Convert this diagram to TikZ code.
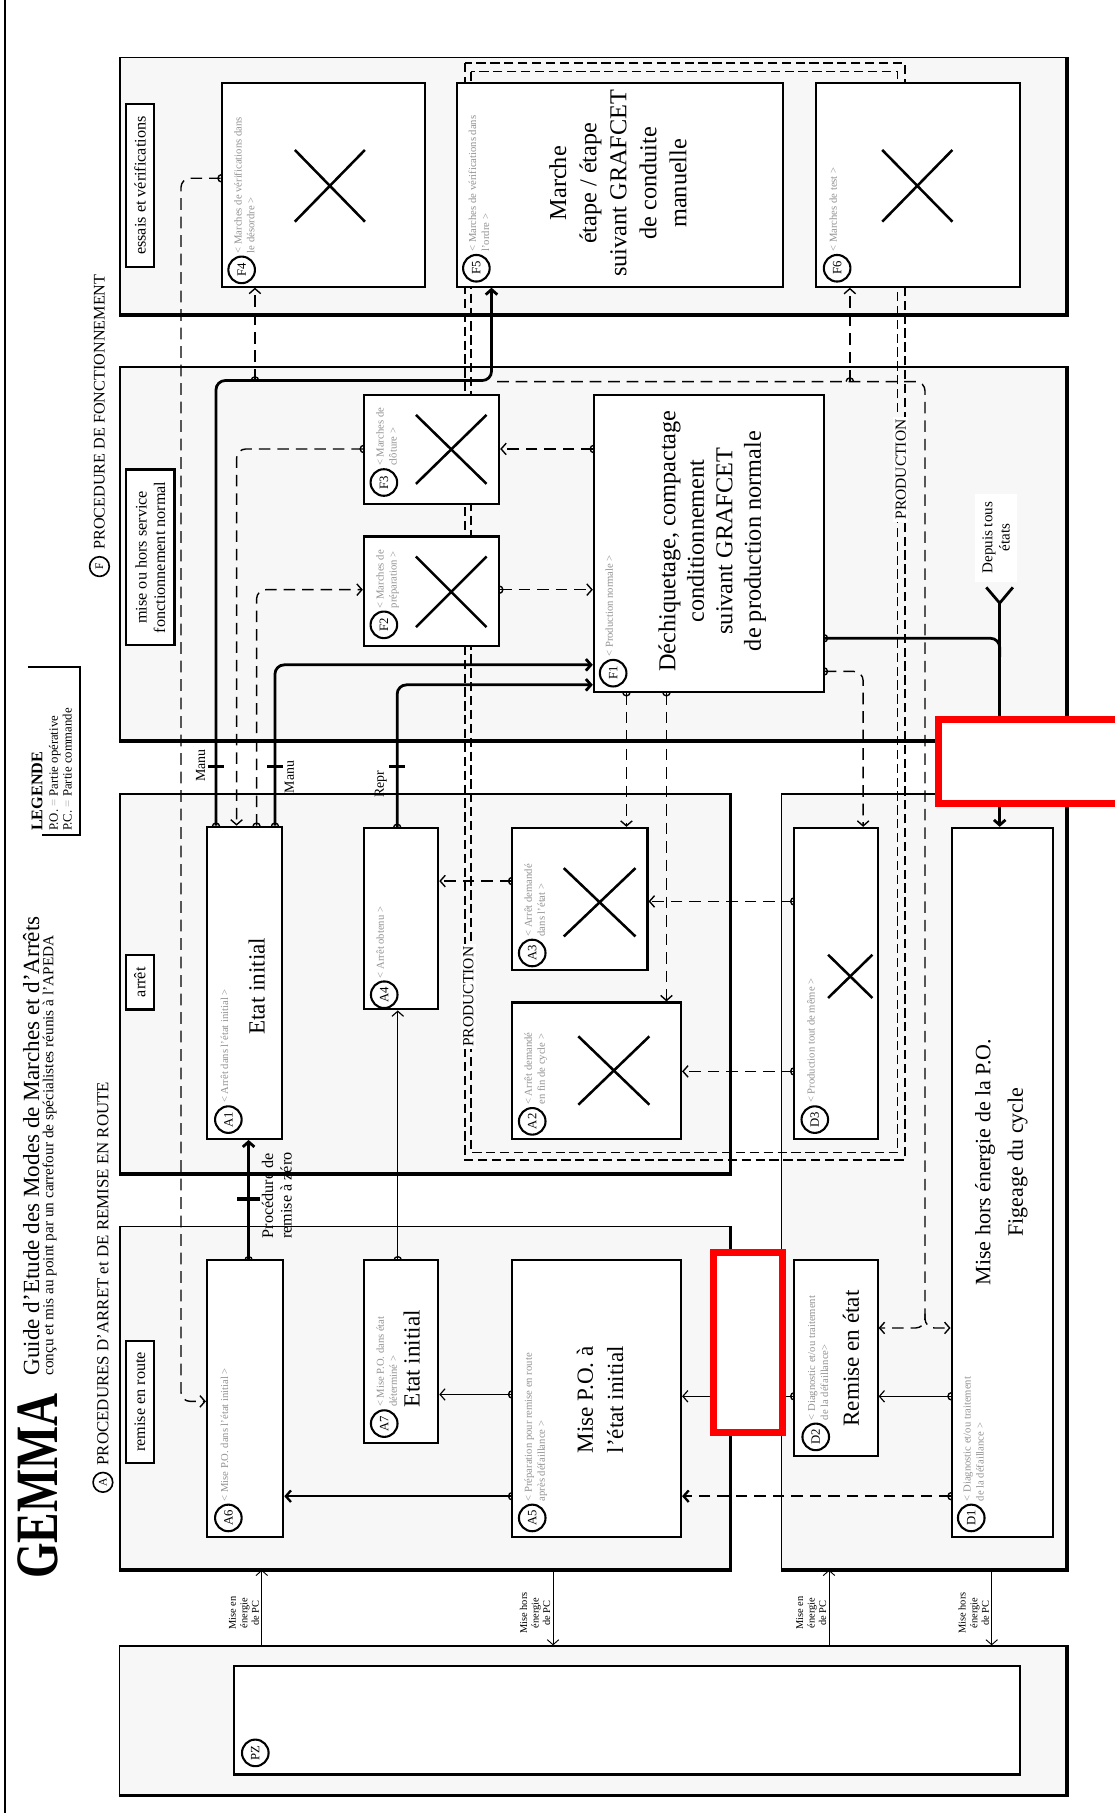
\documentclass[tikz,border=0pt]{standalone}
\usepackage{fontspec}
\setmainfont{Liberation Serif}
\newfontfamily\gemmafont[FakeStretch=0.76]{Liberation Serif}
\usetikzlibrary{arrows.meta}
\tikzset{bump/.pic={\draw[line width=0.6pt,solid] (0,-3.2) arc[start angle=-90,end angle=90,radius=3.2];}}

\begin{document}
\begin{tikzpicture}[x=0.5pt,y=-0.5pt,
  zone/.style={draw,line width=0.7pt,fill=gray!6,inner sep=0pt},
  etat/.style={draw,line width=0.9pt,fill=white,inner sep=0pt},
  tag/.style={draw,line width=1pt,fill=white,rotate=90,inner sep=1pt,align=center,font=\fontsize{7}{8}\selectfont},
  num/.style={draw,circle,line width=0.9pt,minimum size=11.5pt,inner sep=0pt,rotate=90,font=\fontsize{5.5}{5.5}\selectfont},
  sec/.style={draw,circle,line width=0.7pt,minimum size=8.5pt,inner sep=0pt,rotate=90,font=\fontsize{5}{5}\selectfont},
  lbl/.style={rotate=90,anchor=north west,inner sep=0pt,align=left,text=gray!85,font=\fontsize{4.6}{5.6}\selectfont},
  big/.style={rotate=90,align=center,inner sep=0pt,font=\fontsize{10}{13}\selectfont},
  side/.style={rotate=90,align=center,inner sep=0.5pt,font=\fontsize{4.5}{5}\selectfont},
  trans/.style={rotate=90,inner sep=1pt,align=center,font=\fontsize{6}{7}\selectfont},
  prod/.style={rotate=90,fill=white,inner sep=1pt,font=\fontsize{6.7}{7}\selectfont},
  head/.style={rotate=90,anchor=west,inner sep=0pt},
  cross/.style={line width=1.1pt},
  flow/.style={-{Straight Barb[length=2.2pt,width=5pt]},line width=0.5pt},
  thk/.style={flow,line width=1.2pt},
  dsh/.style={flow,line width=0.6pt,dash pattern=on 5pt off 3pt},
  tick/.style={line width=1.4pt},
  redbox/.style={draw=red,line width=3pt,fill=white}]

  \useasboundingbox (0,0) rectangle (964,1568);

  % page rule
  \draw[line width=0.8pt] (4.5,0) -- (4.5,1568);

  % zones (thick bottom and right edge)
  \foreach \n/\xa/\ya/\xb/\yb in {Fe/103.8/49.6/922/271.6, Ff/103.8/317.6/922/640,
      Aa/104/686.5/631/1014.5, Ar/104/1060.6/631/1357, Dz/676/686.5/922/1357,
      PZz/103.4/1423.7/922/1552} {
    \node[zone,minimum width={(\xb-\xa)*0.5pt},minimum height={(\yb-\ya)*0.5pt}]
      (\n) at ({(\xa+\xb)/2},{(\ya+\yb)/2}) {};
    \draw[line width=1.5pt] (\n.south west) -- (\n.south east) -- (\n.north east);
  }

  % PRODUCTION frame, double dashed
  \draw[line width=0.9pt,dash pattern=on 4pt off 2pt] (402,54.5) rectangle (782.5,1003);
  \draw[line width=0.6pt,dash pattern=on 4pt off 2pt] (407.5,62) rectangle (776,997);

  % states
  \foreach \n/\xa/\ya/\xb/\yb in {F4/191.7/72/367.5/247.9, F5/395.4/72/677.3/247.9,
      F6/705.5/72/882/248, F3/314.7/341.5/431.7/435.8, F2/314.7/464/431.7/558.5,
      F1/513.6/341.5/712.5/598.6, A1/179/715/244/985, A4/315/716/379/873,
      A3/443/716/560/839, A2/443/867/589/985, D3/687/716/759/985,
      D1/823/716/910.5/1329.5, A6/179/1090/245/1329, A7/315/1090/379/1248,
      A5/443/1090/589/1329, D2/687/1090/759/1259.5, PZ/202.7/1441/882.5/1534.7}
    \node[etat,minimum width={(\xb-\xa)*0.5pt},minimum height={(\yb-\ya)*0.5pt}]
      (\n) at ({(\xa+\xb)/2},{(\ya+\yb)/2}) {};

  % crossed-out states
  \foreach \xa/\ya/\xb/\yb in {255/129.7/315.6/191.7, 763/129.7/823.7/191.7,
      359.7/358.8/420.8/418.5, 359.7/481.3/420.8/542.4, 487.6/750.8/549.6/809.9,
      500.2/896.3/561.6/955.4, 716.2/825.7/754.5/863.1}
    \draw[cross] (\xa,\ya) -- (\xb,\yb) (\xa,\yb) -- (\xb,\ya);

  % thick links
  \draw[thk,rounded corners=4pt] (A1.north -| 186.8,0) -- (186.8,329.1) -- (425.1,329.1) -- (F5.south -| 425.1,0);
  \draw[thk,rounded corners=4pt] (A1.north -| 237.8,0) -- (237.8,575) -- (F1.west |- 0,575);
  \draw[thk,rounded corners=4pt] (A4.north -| 343.5,0) -- (343.5,592.3) -- (F1.west |- 0,592.3);
  \draw[thk] (A6.north -| 215,0) -- (A1.south -| 215,0);

  % from all states
  \node[rotate=90,fill=white,inner sep=1pt,align=center,font=\fontsize{6.5}{7.5}\selectfont,
        minimum width=38pt,minimum height=18pt] (depuis) at (861.5,465) {Depuis tous\\états};
  \coordinate (fork) at (864.6,521.6);
  \draw[line width=1.2pt] (853,508) -- (fork) -- (876,508);
  \draw[thk] (fork) -- (D1.north -| fork);
  \draw[line width=1.2pt,rounded corners=4pt] (F1.east |- 0,552) -- (864.6,552) -- (864.6,568);

  % thin solid links
  \draw[flow] (A7.north -| 344,0) -- (A4.south -| 344,0);
  \draw[flow] (A5.west |- 0,1206) -- (A7.east |- 0,1206);
  \draw[flow,line width=1pt] (A5.west |- 0,1294) -- (A6.east |- 0,1294);
  \draw[flow] (D2.west |- 0,1207.6) -- (A5.east |- 0,1207.6);
  \draw[flow] (D1.west |- 0,1207.6) -- (D2.east |- 0,1207.6);

  % dashed links
  \draw[dsh,rounded corners=4pt] (F4.west |- 0,154.2) -- (156.5,154.2) -- (156.5,1212) -- (A6.west |- 0,1212);
  \draw[dsh] (220.5,329.1) -- (F4.south -| 220.5,0);
  \draw[dsh] (735,330) -- (F6.south -| 735,0);
  \draw[dsh,rounded corners=4pt] (430,330) -- (800,330) -- (800,1148.5) -- (D2.east |- 0,1148.5);
  \draw[dsh,rounded corners=4pt] (800,1136) -- (800,1148.5) -- (D1.west |- 0,1148.5);
  \draw[dsh,rounded corners=4pt] (F3.west |- 0,388.3) -- (204.6,388.3) -- (A1.north -| 204.6,0);
  \draw[dsh,rounded corners=4pt] (A1.north -| 221.9,0) -- (221.9,510) -- (F2.west |- 0,510);
  \draw[dsh] (F2.east |- 0,510) -- (F1.west |- 0,510);
  \draw[dsh] (F1.west |- 0,388.3) -- (F3.east |- 0,388.3);
  \draw[dsh] (F1.south -| 541.8,0) -- (A3.north -| 541.8,0);
  \draw[dsh] (F1.south -| 576.4,0) -- (A2.north -| 576.4,0);
  \draw[dsh,rounded corners=4pt] (F1.east |- 0,580.7) -- (746.5,580.7) -- (D3.north -| 746.5,0);
  \draw[dsh] (A3.west |- 0,762) -- (A4.east |- 0,762);
  \draw[dsh] (D3.west |- 0,779.6) -- (A3.east |- 0,779.6);
  \draw[dsh] (D3.west |- 0,926.6) -- (A2.east |- 0,926.6);
  \draw[dsh,line width=1pt] (D1.west |- 0,1294) -- (A5.east |- 0,1294);

  % power on / off of the PC
  \draw[flow,line width=0.4pt] (PZz.north -| 226.4,0) -- (Ar.south -| 226.4,0);
  \draw[flow,line width=0.4pt] (Ar.south -| 478.3,0) -- (PZz.north -| 478.3,0);
  \draw[flow,line width=0.4pt] (PZz.north -| 717,0) -- (Dz.south -| 717,0);
  \draw[flow,line width=0.4pt] (Dz.south -| 857.7,0) -- (PZz.north -| 857.7,0);
  \foreach \xx/\t in {226.4/{Mise en\\énergie\\de PC}, 478.3/{Mise hors\\énergie\\de PC},
      717/{Mise en\\énergie\\de PC}, 857.7/{Mise hors\\énergie\\de PC}}
    \node[side,anchor=south] (pc\xx) at (\xx-1,1395) {\t};

  % origin marks
  \foreach \p/\r in {{186.8,715}/90, {221.9,715}/90, {237.8,715}/90, {343.5,716}/90,
      {215,1090}/90, {344,1090}/90, {443,1206}/180, {443,1294}/180, {687,1207.6}/180,
      {823,1207.6}/180, {823,1294}/180, {191.7,154.2}/180, {220.5,329.1}/90,
      {735,330}/90, {314.7,388.3}/180, {431.7,510}/0, {513.6,388.3}/180,
      {541.8,598.6}/-90, {576.4,598.6}/-90, {712.5,580.7}/0, {712.5,552}/0,
      {443,762}/180, {687,779.6}/180, {687,926.6}/180}
    \pic[rotate=\r] at (\p) {bump};

  % transitions
  \draw[tick] (180,663) -- (194,663);
  \draw[tick] (231,663) -- (245,663);
  \draw[tick] (336.5,663) -- (350.5,663);
  \node[trans,anchor=south] (manu1) at (180,662) {Manu};
  \node[trans,anchor=north] (manu2) at (244,672) {Manu};
  \node[trans,anchor=south] (repr) at (337,678) {Repr};
  \draw[tick] (205,1037) -- (225,1037);
  \node[trans,anchor=north,font=\fontsize{7}{8}\selectfont] (raz) at (224,1034) {Procédure de\\remise à zéro};

  % state numbers
  \foreach \n/\cx/\cy in {F4/209/233.4, F5/412/232, F6/724/232, F3/332/417.3,
      F2/332/540.4, F1/530.3/582.2, A1/197.5/968.3, A4/332.3/860.3, A3/460.3/824.2,
      A2/460.3/969.8, D3/704.7/968.3, A6/197.5/1312.8, A7/332.3/1231.2,
      A5/460.3/1312.8, D2/705.5/1242.7, D1/840/1312.8, PZ/220.8/1516}
    \node[num] (n\n) at (\cx,\cy) {\n};

  % state names
  \foreach \n/\t in {F4/{< Marches de vérifications dans\\le désordre >},
      F5/{< Marches de vérifications dans\\l'ordre >}, F6/{< Marches de test >},
      F3/{< Marches de\\clôture >}, F2/{< Marches de\\préparation >},
      F1/{< Production normale >}, A1/{< Arrêt dans l'état initial >},
      A4/{< Arrêt obtenu >}, A3/{< Arrêt demandé\\dans l'état >},
      A2/{< Arrêt demandé\\en fin de cycle >}, D3/{< Production tout de même >},
      A6/{< Mise P.O. dans l'état initial >}, A7/{< Mise P.O. dans état\\déterminé >},
      A5/{< Préparation pour remise en route\\après défaillance >},
      D2/{< Diagnostic et/ou traitement\\de la défaillance>},
      D1/{< Diagnostic et/ou traitement\\de la défaillance >}}
    \node[lbl] (l\n) at ([shift={(-7,-14)}]n\n.center) {\t};

  % state contents
  \node[big,font=\fontsize{10.5}{13}\selectfont] (tF5) at (534.5,158.5) {Marche\\étape / étape\\suivant GRAFCET\\de conduite\\manuelle};
  \node[big,font=\fontsize{10.5}{12.3}\selectfont] (tF1) at (616,468)
    {Déchiquetage, compactage\\conditionnement\\suivant GRAFCET\\de production normale};
  \node[big] (tA1) at (222,853) {Etat initial};
  \node[big] (tA7) at (356,1175) {Etat initial};
  \node[big] (tA5) at (519,1210.6) {Mise P.O. à\\l'état initial};
  \node[big] (tD2) at (736,1175) {Remise en état};
  \node[big,font=\fontsize{9.5}{14}\selectfont] (tD1) at (866,1005) {Mise hors énergie de la P.O.\\Figeage du cycle};

  % zone tags
  \node[tag,minimum width=70.5pt,minimum height=12pt] (tagFe) at (121,160.5) {essais et vérifications};
  \node[tag,minimum width=76pt,minimum height=21pt] (tagFf) at (130,482) {mise ou hors service\\fonctionnement normal};
  \node[tag,minimum width=23.5pt,minimum height=12pt] (tagAa) at (121,849.5) {arrêt};
  \node[tag,minimum width=52.5pt,minimum height=12pt] (tagAr) at (121,1212.5) {remise en route};

  % production labels
  \node[prod] (prodL) at (405,862) {PRODUCTION};
  \node[prod] (prodR) at (779,406) {PRODUCTION};

  % headings
  \node[head,font=\gemmafont\bfseries\fontsize{26}{26}\selectfont] (gemma) at (33,1366) {GEMMA};
  \node[head,font=\fontsize{10}{10}\selectfont] (titre) at (27,1190)
    {Guide d'Etude des Modes de Marches et d'Arrêts};
  \node[head,font=\fontsize{6.6}{6.6}\selectfont] (soustitre) at (43,1190)
    {conçu et mis au point par un carrefour de spécialistes réunis à l'APEDA};
  \node[sec] (secA) at (89,1282) {A};
  \node[head,font=\fontsize{7.3}{7.3}\selectfont] (ttlA) at ([shift={(0,-5)}]secA.east)
    {PROCEDURES D'ARRET et DE REMISE EN ROUTE};
  \node[sec] (secF) at (86,490) {F};
  \node[head,font=\fontsize{7}{7}\selectfont] (ttlF) at ([shift={(0,-5)}]secF.east)
    {PROCEDURE DE FONCTIONNEMENT};

  % legend
  \draw[line width=1pt] (24,577) -- (69,577) -- (69,722) -- (36,722);
  \node[head,font=\bfseries\fontsize{7}{7}\selectfont] (leg) at (32,719) {LEGENDE};
  \node[rotate=90,anchor=north west,inner sep=0pt,align=left,font=\fontsize{5.5}{6}\selectfont] (legtxt) at (42,719)
    {P.O. \textcolor{gray!60}{=} Partie opérative\\P.C. \textcolor{gray!60}{=} Partie commande};

  % red frames
  \node[redbox,minimum width=30pt,minimum height=78pt] (red1) at (647,1161) {};
  \node[redbox,minimum width=81.5pt,minimum height=36.5pt] (red2) at (893.5,658.5) {};
\end{tikzpicture}
\end{document}
